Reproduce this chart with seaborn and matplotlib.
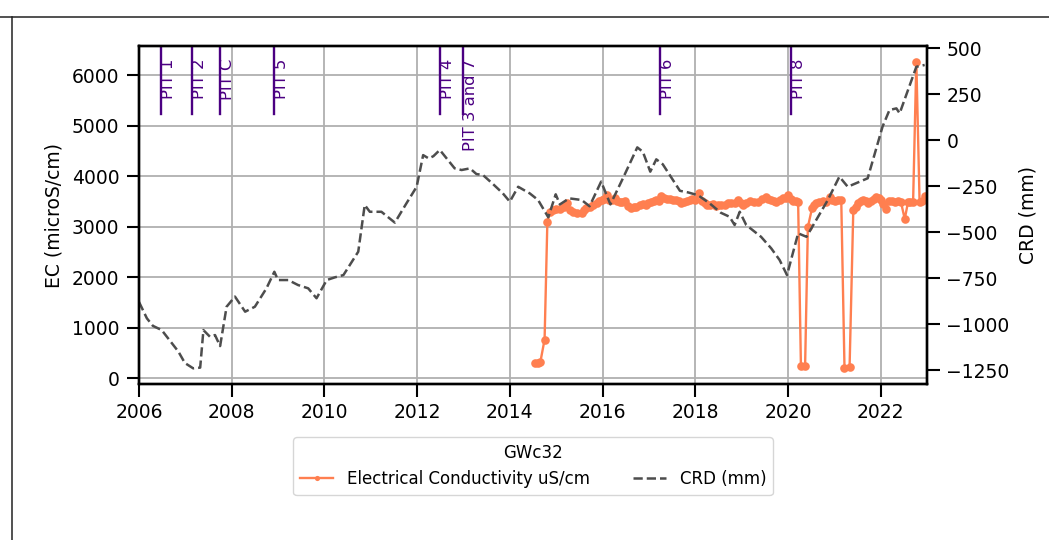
import matplotlib
matplotlib.use('Agg')
import matplotlib.pyplot as plt
from matplotlib.lines import Line2D
import seaborn as sns

# EC readings (decimal year, microS/cm)
ec_dates = [2014.54, 2014.60, 2014.66, 2014.75, 2014.81, 2014.87, 2014.93, 2015.00, 2015.08, 2015.16,
            2015.24, 2015.30, 2015.36, 2015.45, 2015.55, 2015.60, 2015.65, 2015.73, 2015.80, 2015.87,
            2015.93, 2015.98, 2016.04, 2016.09, 2016.15, 2016.21, 2016.26, 2016.32, 2016.38, 2016.43,
            2016.48, 2016.55, 2016.61, 2016.67, 2016.73, 2016.80, 2016.87, 2016.93, 2016.99, 2017.05,
            2017.10, 2017.16, 2017.22, 2017.27, 2017.33, 2017.40, 2017.46, 2017.53, 2017.59, 2017.65,
            2017.70, 2017.76, 2017.82, 2017.88, 2017.94, 2017.99, 2018.08, 2018.14, 2018.20, 2018.26,
            2018.32, 2018.38, 2018.44, 2018.50, 2018.56, 2018.64, 2018.70, 2018.78, 2018.85, 2018.92,
            2018.98, 2019.03, 2019.10, 2019.18, 2019.26, 2019.35, 2019.44, 2019.53, 2019.58, 2019.64,
            2019.70, 2019.75, 2019.82, 2019.89, 2019.95, 2020.00, 2020.06, 2020.11, 2020.17, 2020.22,
            2020.28, 2020.37, 2020.43, 2020.52, 2020.57, 2020.61, 2020.68, 2020.76, 2020.83, 2020.90,
            2020.96, 2021.01, 2021.08, 2021.15, 2021.22, 2021.33, 2021.41, 2021.46, 2021.51, 2021.57,
            2021.62, 2021.68, 2021.73, 2021.80, 2021.86, 2021.91, 2021.96, 2022.01, 2022.06, 2022.11,
            2022.19, 2022.25, 2022.31, 2022.37, 2022.44, 2022.52, 2022.59, 2022.64, 2022.70, 2022.77,
            2022.84, 2022.90, 2022.95]
ec_vals = [296, 310, 330, 770, 3100, 3300, 3330, 3345, 3350, 3400,
           3460, 3330, 3300, 3280, 3266, 3330, 3365, 3400, 3440, 3470,
           3500, 3529, 3540, 3630, 3530, 3530, 3570, 3510, 3480, 3490,
           3500, 3420, 3380, 3390, 3400, 3440, 3450, 3440, 3470, 3480,
           3500, 3530, 3510, 3600, 3570, 3550, 3540, 3520, 3530, 3500,
           3464, 3490, 3500, 3520, 3540, 3530, 3660, 3500, 3464, 3440,
           3440, 3450, 3420, 3430, 3440, 3434, 3460, 3467, 3460, 3533,
           3470, 3434, 3470, 3500, 3490, 3480, 3540, 3586, 3550, 3533,
           3500, 3480, 3520, 3566, 3570, 3631, 3540, 3519, 3500, 3480,
           243, 243, 2994, 3368, 3430, 3467, 3480, 3500, 3490, 3586,
           3530, 3519, 3520, 3533, 211, 231, 3335, 3400, 3467, 3500,
           3533, 3500, 3467, 3500, 3550, 3586, 3560, 3533, 3450, 3349,
           3519, 3500, 3490, 3500, 3480, 3152, 3487, 3487, 3487, 6263,
           3487, 3500, 3612]

# CRD (decimal year, mm)
crd_dates = [2006.00, 2006.17, 2006.30, 2006.49, 2006.85, 2006.99, 2007.17, 2007.32, 2007.39, 2007.53,
             2007.64, 2007.75, 2007.89, 2008.07, 2008.29, 2008.50, 2008.75, 2008.92, 2009.00, 2009.22,
             2009.43, 2009.65, 2009.83, 2010.05, 2010.23, 2010.41, 2010.73, 2010.87, 2010.98, 2011.23,
             2011.52, 2011.66, 2011.77, 2011.99, 2012.13, 2012.25, 2012.35, 2012.49, 2012.81, 2012.96,
             2013.14, 2013.28, 2013.42, 2013.64, 2013.85, 2014.00, 2014.18, 2014.43, 2014.61, 2014.83,
             2014.99, 2015.08, 2015.28, 2015.55, 2015.72, 2015.97, 2016.17, 2016.44, 2016.75, 2016.87,
             2017.03, 2017.16, 2017.30, 2017.67, 2017.85, 2018.06, 2018.31, 2018.55, 2018.74, 2018.85,
             2018.96, 2019.10, 2019.42, 2019.64, 2019.82, 2019.98, 2020.22, 2020.40, 2020.86, 2021.11,
             2021.29, 2021.72, 2022.04, 2022.19, 2022.34, 2022.41, 2022.77, 2022.95]
crd_vals = [-880, -969, -1010, -1033, -1150, -1212, -1241, -1237, -1033, -1069,
            -1060, -1120, -906, -851, -933, -906, -806, -716, -761, -761,
            -788, -806, -860, -761, -746, -734, -607, -353, -390, -390,
            -449, -390, -344, -254, -82, -100, -88, -54, -154, -163,
            -154, -185, -190, -240, -290, -335, -254, -290, -326, -420,
            -295, -350, -317, -326, -360, -226, -350, -208, -40, -64,
            -172, -105, -132, -276, -285, -300, -344, -395, -417, -462,
            -390, -462, -526, -589, -652, -734, -507, -526, -326, -199,
            -254, -208, 72, 163, 172, 145, 398, 408]

# pit commissioning markers
pit_names = ['PIT 1', 'PIT 2', 'PIT C', 'PIT 5', 'PIT 4', 'PIT 3 and 7', 'PIT 6', 'PIT 8']
pit_dates = [2006.47, 2007.15, 2007.74, 2008.91, 2012.49, 2012.99, 2017.23, 2020.06]

fig = plt.figure(figsize=(10.49, 5.4), dpi=100)
ax = fig.add_axes([0.1325, 0.2889, 0.7512, 0.6259])
ax2 = ax.twinx()

sns.lineplot(x=ec_dates, y=ec_vals, ax=ax, color='coral', marker='o', markersize=6.2,
             markeredgewidth=0, linewidth=1.7, estimator=None, label='Electrical Conductivity uS/cm')
sns.lineplot(x=crd_dates, y=crd_vals, ax=ax2, color='#4d4d4d', linestyle='--', linewidth=1.8,
             estimator=None, label='CRD (mm)')

for name, d in zip(pit_names, pit_dates):
    ax.axvline(d, ymin=0.8, ymax=1.0, color='indigo', linewidth=1.7)
    ax.text(d, 0.962, name, rotation=90, ha='left', va='top', color='indigo', fontsize=11.8,
            transform=ax.get_xaxis_transform())

ax.set_xlim(2006, 2023)
ax.set_xticks(range(2006, 2023, 2))
ax.set_ylim(-110, 6575)
ax2.set_ylim(-1326, 511)
ax2.set_yticks(range(-1250, 501, 250))
ax.grid(True, color='#b0b0b0', linewidth=1.3)
ax.set_axisbelow(True)

ax.set_ylabel('EC (microS/cm)', fontsize=13.5, labelpad=6)
ax2.set_ylabel('CRD (mm)', fontsize=13.5, labelpad=6)
for a in (ax, ax2):
    a.tick_params(labelsize=13.5, length=9, width=1.5, pad=5)
    for s in a.spines.values():
        s.set_linewidth(1.7)

h1, l1 = ax.get_legend_handles_labels()
h2, l2 = ax2.get_legend_handles_labels()
if ax2.get_legend():
    ax2.get_legend().remove()
ax.legend(h1 + h2, l1 + l2, loc='upper center', bbox_to_anchor=(0.5, -0.133), ncol=2,
          title='GWc32', fontsize=12, title_fontsize=12, markerscale=0.6, columnspacing=2.6)

# outer frame lines
fig.add_artist(Line2D([0, 1], [0.9685, 0.9685], color='#222222', linewidth=1.1))
fig.add_artist(Line2D([0.011, 0.011], [0, 0.9685], color='#222222', linewidth=1.1))

fig.savefig('out.png', dpi=100)
